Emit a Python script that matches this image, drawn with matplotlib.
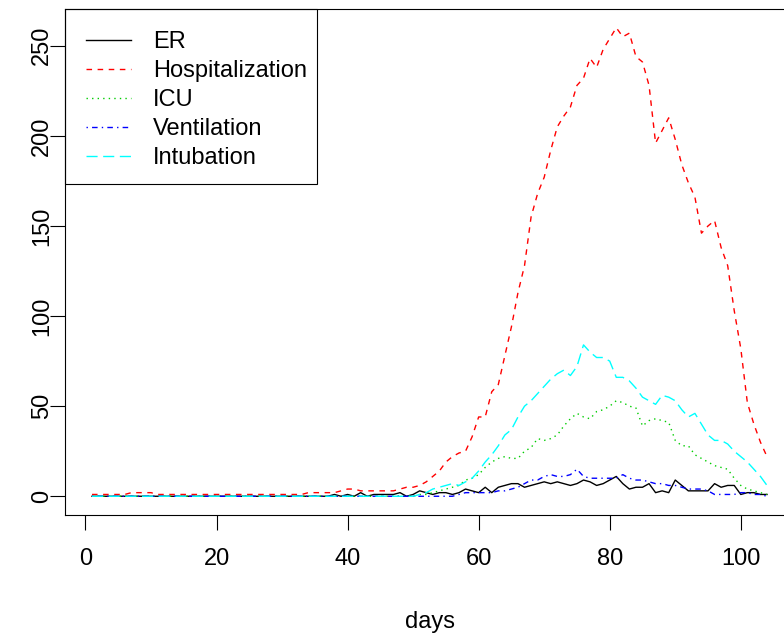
import numpy as np
import matplotlib
matplotlib.use("Agg")
import matplotlib.pyplot as plt
from matplotlib.patches import Rectangle

plt.rcParams['font.family'] = ['Liberation Sans', 'DejaVu Sans']

days = np.arange(1, 105)

er = [0] * 37 + [
    1, 0, 1, 0, 2, 0, 1, 1, 1, 1, 2, 0, 1, 3, 2, 1, 2, 2, 1, 2,
    4, 3, 2, 5, 2, 5, 6, 7, 7, 5, 6, 7, 8, 7, 8, 7, 6, 7, 9, 8,
    6, 7, 9, 11, 7, 4, 5, 5, 7, 2, 3, 2, 9, 6, 3, 3, 3, 3, 7, 5,
    6, 6, 1, 2, 2, 1, 1]

hosp = [1] * 6 + [2] * 4 + [1] * 23 + [2] * 5 + [
    3, 4, 4, 3, 3, 3, 3, 3, 3, 4, 5, 5, 6, 8, 11, 14, 19, 22, 24, 25,
    33, 44, 44, 58, 62, 78, 94, 113, 128, 155, 168, 177, 192, 205, 211, 216, 228, 232, 243, 238,
    248, 254, 260, 255, 257, 244, 241, 228, 196, 203, 210, 198, 184, 174, 166, 146, 150, 153, 138, 128,
    103, 82, 52, 40, 30, 22]

icu = [0] * 50 + [
    1, 1, 2, 3, 4, 5, 6, 9, 10, 12, 16, 19, 21, 22, 21, 21, 25, 27, 32, 31,
    32, 34, 39, 43, 46, 44, 43, 47, 48, 50, 53, 52, 50, 49, 39, 42, 43, 42, 41, 31,
    28, 28, 23, 21, 19, 17, 16, 15, 10, 6, 4, 3, 2, 1]

vent = [0] * 56 + [
    1, 2, 2, 2, 2, 2, 3, 3, 4, 5, 7, 9, 9, 11, 12, 11, 11, 12, 15, 11,
    10, 10, 10, 10, 10, 12, 10, 9, 9, 8, 7, 7, 6, 6, 5, 4, 4, 4, 3, 1,
    1, 1, 1, 2, 2, 1, 1, 0]

intub = [0] * 50 + [
    1, 2, 4, 5, 6, 7, 6, 8, 10, 14, 19, 23, 28, 34, 37, 44, 50, 53, 57, 61,
    65, 68, 70, 67, 72, 84, 80, 77, 77, 75, 66, 66, 64, 60, 55, 53, 51, 56, 55, 53,
    48, 44, 46, 40, 34, 31, 31, 29, 25, 22, 19, 15, 11, 6]

labels = ['ER', 'Hospitalization', 'ICU', 'Ventilation', 'Intubation']

FS = 17
fig = plt.figure(figsize=(7.84, 6.37), dpi=100)
W, H = 784, 637
ax = fig.add_axes([65 / W, (H - 515) / H, (794 - 65) / W, (515 - 9) / H])

ax.plot(days, er, color='black', lw=1.0, label=labels[0])
ax.plot(days, hosp, color='red', lw=1.0, dashes=(4, 4), label=labels[1])
ax.plot(days, icu, color='#00CD00', lw=1.0, dashes=(1, 3), label=labels[2])
ax.plot(days, vent, color='blue', lw=1.0, dashes=(1, 3, 4, 3), label=labels[3])
ax.plot(days, intub, color='cyan', lw=1.0, dashes=(8, 4), label=labels[4])

ax.set_xlim(1 - 0.04 * 103, 104 + 0.04 * 103)
ax.set_ylim(-0.04 * 260, 260 * 1.04)
ax.set_xticks(np.arange(0, 101, 20))
ax.set_yticks(np.arange(0, 251, 50))
ax.tick_params(direction='out', length=10.5, width=0.8, labelsize=FS)
ax.tick_params(axis='x', pad=13)
ax.tick_params(axis='y', pad=-2)
for lbl in ax.get_yticklabels():
    lbl.set_rotation(90)
    lbl.set_va('center')
for s in ax.spines.values():
    s.set_linewidth(0.8)

ax.set_xlabel('days', fontsize=FS, labelpad=30)

# legend entries without frame, box drawn separately (R style spacing)
leg = ax.legend(loc='upper left', bbox_to_anchor=(86 / W, 1 - 31 / H),
                bbox_transform=fig.transFigure, borderaxespad=0, borderpad=0,
                frameon=False, fontsize=FS, handlelength=1.9,
                handletextpad=0.93, labelspacing=0.3)
box = Rectangle((65 / W, 1 - 184 / H), (317 - 65) / W, (184 - 9) / H,
                transform=fig.transFigure, fill=False, lw=0.8, ec='black')
fig.add_artist(box)

fig.savefig('out.png', dpi=100)
